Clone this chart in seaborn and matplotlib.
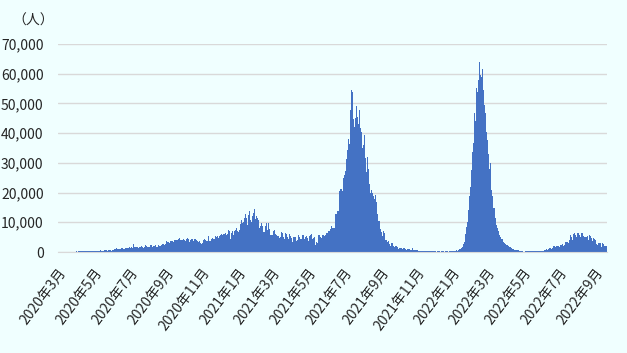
import pandas as pd
import matplotlib.pyplot as plt
import seaborn as sns

sns.set_style("white")
plt.rcParams['font.family'] = ['Noto Sans CJK JP', 'DejaVu Sans']

# daily new cases (one line per month)
cases_2020 = [
    2, 0, 0, 2, 0, 0, 2, 13, 8, 7, 0, 35, 27, 21, 17, 38, 55, 82, 60, 81, 64, 65, 106, 105, 103, 153, 109, 130, 129, 114,
    149, 113, 196, 106, 181, 218, 247, 218, 337, 219, 330, 399, 316, 282, 297, 380, 407, 325, 327, 185, 375, 283, 357, 436, 396, 275, 214, 415, 260, 347,
    433, 292, 349, 395, 484, 367, 338, 336, 386, 387, 233, 484, 689, 568, 490, 529, 489, 496, 486, 693, 973, 634, 949, 526, 479, 415, 686, 687, 678, 557, 700,
    467, 609, 684, 585, 703, 993, 672, 847, 1043, 1241, 979, 1111, 1014, 857, 1017, 1106, 1031, 1331, 1041, 1226, 862, 954, 1051, 1113, 1178, 1082, 1385, 1198, 1082, 1293,
    1385, 1624, 1301, 1447, 1607, 1209, 1268, 1853, 2657, 1611, 1671, 1681, 1282, 1591, 1522, 1574, 1462, 1752, 1639, 1693, 1655, 1882, 1906, 1761, 1868, 1492, 1525, 1748, 2381, 1904, 2040,
    1560, 1519, 1679, 1815, 1815, 1882, 2473, 2277, 1893, 1687, 1693, 1942, 2098, 2307, 2345, 2081, 1821, 1673, 1902, 2266, 2197, 2037, 2286, 1877, 2447, 2306, 2719, 3003, 2858, 2495, 2743,
    2775, 3075, 3622, 3269, 3444, 3250, 2880, 3046, 3307, 3861, 3737, 3806, 3636, 3141, 3507, 3963, 3635, 3891, 4168, 3989, 3989, 4071, 4465, 4634, 4823, 4494, 3874, 4176, 3906, 4002,
    4174, 4317, 4007, 3992, 3622, 4056, 4538, 4850, 4094, 4294, 4497, 3267, 3906, 4127, 4411, 4301, 4301, 3373, 3602, 4369, 4267, 4432, 4369, 4070, 3732, 3222, 3520, 4029, 3565, 2696, 2897,
    2696, 2618, 3143, 3356, 4065, 4262, 4262, 3880, 3880, 3779, 3770, 4173, 5444, 5272, 3807, 3535, 3807, 4265, 4798, 4792, 4998, 4360, 4442, 4192, 5534, 5534, 4917, 5418, 6267, 4617,
    5092, 5533, 8369, 5803, 6027, 6089, 5754, 5292, 6058, 6033, 6310, 6388, 5489, 5681, 6120, 7354, 7354, 6725, 6982, 6848, 4442, 6347, 7514, 7199, 6130, 5854, 7088, 7203, 7468, 8002, 8072,
]
cases_2021 = [
    7036, 6877, 6783, 6753, 7445, 8854, 9321, 10617, 10046, 9640, 8692, 10047, 11278, 11557, 12818, 14224, 11287, 9086, 10365, 12568, 11703, 13632, 12191, 10934, 9994, 13094, 11948, 13695, 12983, 14518, 12001,
    10994, 9883, 11984, 11434, 11749, 10768, 12156, 8242, 8700, 8776, 9868, 8435, 8844, 8557, 6765, 6686, 8869, 8779, 8800, 9599, 7528, 7300, 9775, 8493, 7823, 6760, 5835, 5794,
    6680, 5712, 6808, 6971, 7264, 6736, 6127, 5589, 5633, 5531, 4607, 5414, 5500, 4714, 4424, 5210, 6699, 6570, 6279, 5688, 5008, 4399, 5043, 6279, 5776, 5937, 4939, 4355, 4315, 5089, 5937,
    6142, 5520, 4871, 5050, 3495, 4549, 4956, 5007, 4972, 5041, 4160, 3539, 4123, 5702, 5656, 5656, 4952, 4533, 4394, 4263, 6177, 5720, 5436, 5748, 4402, 4652, 5205, 5241, 5444, 4801,
    3758, 3587, 4429, 5285, 5285, 5647, 6130, 4891, 4321, 3922, 4608, 5016, 2633, 2385, 2404, 3448, 3080, 4871, 5746, 5797, 5744, 5296, 5040, 4563, 4952, 5797, 6278, 5862, 5305, 5060, 5824,
    4824, 6486, 6486, 6486, 7129, 6901, 6993, 6294, 7725, 8892, 8465, 8083, 9868, 8189, 8161, 9944, 12624, 12990, 12906, 13737, 14536, 13668, 15308, 20574, 18872, 21095, 21342, 20694, 20467, 21807,
    24836, 25830, 27913, 27233, 29745, 31189, 34379, 38391, 38124, 35094, 36197, 40427, 47899, 54517, 56757, 54000, 51952, 44721, 42000, 40000, 45000, 49509, 49071, 45416, 44000, 43000, 45203, 47791, 43479, 41649, 40427,
    37284, 35000, 33000, 35867, 39532, 35764, 31753, 28000, 27000, 32081, 30625, 28000, 28598, 22929, 20813, 20000, 20741, 22053, 20004, 19000, 19000, 18000, 16000, 19106, 18671, 16899, 12908, 11000, 10500, 10000, 10534,
    8955, 7797, 6727, 6077, 5500, 5376, 7201, 6553, 5376, 4167, 3779, 3948, 3300, 4128, 3637, 3385, 2720, 2234, 1932, 2912, 3263, 2881, 2557, 2057, 1760, 1390, 1954, 2057, 1942, 1624,
    1414, 1142, 922, 1404, 1393, 1485, 1384, 1111, 894, 620, 1261, 1233, 1053, 915, 1008, 747, 1008, 914, 1043, 760, 883, 623, 652, 612, 637, 1303, 849, 733, 631, 590, 612,
    526, 592, 589, 604, 428, 400, 455, 480, 400, 435, 386, 409, 339, 297, 493, 700, 484, 400, 345, 388, 254, 176, 320, 395, 363, 324, 246, 247, 322, 320,
    278, 315, 216, 200, 152, 143, 194, 195, 219, 190, 183, 107, 148, 190, 175, 208, 203, 182, 141, 216, 232, 220, 227, 206, 172, 92, 139, 182, 265, 249, 274,
]
cases_2022 = [
    265, 174, 299, 299, 404, 533, 479, 528, 529, 414, 802, 646, 772, 1054, 1053, 1200, 1289, 1299, 1745, 2116, 2604, 3205, 4500, 6000, 7010, 8500, 10200, 12500, 14000, 16500, 19000,
    22000, 25000, 27500, 32000, 33800, 36000, 36600, 46700, 46800, 44000, 55000, 55200, 54000, 56800, 58000, 64718, 63956, 59400, 59600, 59000, 57500, 61500, 61900, 54500, 49500, 49200, 46700, 44400,
    40500, 37700, 37000, 33000, 30000, 28000, 30000, 24000, 21000, 20500, 19000, 15000, 14700, 14800, 13000, 11300, 11000, 9000, 8000, 8000, 7200, 6500, 5700, 5200, 5000, 4300, 4000, 4300, 3800, 3300, 3100,
    3000, 2800, 2300, 2200, 2300, 2100, 1900, 1700, 1600, 1600, 1300, 1200, 1100, 1000, 1000, 900, 800, 650, 600, 700, 650, 600, 550, 600, 600, 500, 500, 450, 400, 350,
    300, 200, 150, 100, 150, 230, 320, 400, 350, 250, 280, 300, 260, 220, 250, 230, 200, 250, 270, 280, 260, 200, 180, 250, 300, 320, 280, 250, 200, 260, 320,
    350, 400, 380, 360, 300, 450, 600, 700, 800, 850, 900, 700, 600, 900, 1000, 1200, 1250, 1100, 1000, 1200, 1300, 1600, 1900, 2000, 1800, 1700, 1700, 2000, 2100, 2000,
    2100, 2000, 1800, 2200, 2600, 2500, 2600, 2700, 2500, 2000, 2400, 3400, 3500, 3600, 3400, 3300, 3000, 3100, 4300, 4200, 5700, 5000, 5200, 4200, 4000, 5700, 6200, 6300, 6000, 5800, 5200,
    5000, 6400, 6300, 6500, 6200, 5800, 5200, 6200, 6300, 6400, 6300, 6100, 5500, 5200, 5100, 5200, 5000, 5100, 5300, 4500, 4200, 5000, 5700, 5500, 5000, 4600, 4500, 3700, 3500, 4600, 4500,
    4300, 4000, 3100, 2800, 2300, 3100, 3100, 3000, 3000, 2900, 2000, 1800, 3100, 3000, 2500, 2600, 2000, 1500, 2000, 2300, 2100,
]

start_dates = ["2020-03-02", "2021-01-01", "2022-01-01"]
tick_months = pd.date_range("2020-03-01", "2022-09-01", freq="2MS")
tick_labels = [f"{d.year}年{d.month}月" for d in tick_months]

BG = '#F0FFFF'
BAR = '#4472C4'
GRID = '#D9D9D9'


def build_frame():
    parts = []
    for start, vals in zip(start_dates, [cases_2020, cases_2021, cases_2022]):
        dates = pd.date_range(start, periods=len(vals), freq="D")
        parts.append(pd.DataFrame({'date': dates, 'cases': vals}))
    df = pd.concat(parts, ignore_index=True)
    origin = pd.Timestamp("2020-03-01")
    df['day'] = (df['date'] - origin).dt.days
    return df, origin


def create_chart(image_path):
    df, origin = build_frame()

    fig = plt.figure(figsize=(6.27, 3.53), dpi=100, facecolor=BG)
    ax = fig.add_axes([57.5 / 627, 1 - 252 / 353, (607 - 57.5) / 627, (252 - 44) / 353])
    ax.set_facecolor(BG)

    sns.barplot(data=df, x='day', y='cases', native_scale=True, width=1.0,
                color=BAR, saturation=1, linewidth=0, errorbar=None,
                antialiased=False, ax=ax)

    last = df['day'].max()
    ax.set_xlim(0.5, last + 0.5)
    ax.set_ylim(0, 70000)
    ax.set_yticks(range(0, 70001, 10000))
    ax.set_yticklabels([f"{v:,}" for v in range(0, 70001, 10000)], fontsize=10)

    tick_pos = [(d - origin).days + 0.5 for d in tick_months]
    ax.set_xticks(tick_pos)
    ax.set_xticklabels(tick_labels, rotation=53, ha='right', va='top',
                       rotation_mode='anchor', fontsize=10)

    ax.set_xlabel('')
    ax.set_ylabel('')
    ax.yaxis.grid(True, color=GRID, linewidth=1)
    ax.xaxis.grid(False)
    ax.set_axisbelow(True)
    for s in ['left', 'top', 'right']:
        ax.spines[s].set_visible(False)
    ax.spines['bottom'].set_color(GRID)
    ax.tick_params(axis='y', length=0, pad=10)
    ax.tick_params(axis='x', length=4, color=GRID, direction='out', pad=6)

    fig.text(33 / 627, 1 - 21 / 353, '（人）', ha='center', va='center', fontsize=10)

    plt.savefig(image_path, dpi=100, facecolor=BG)
    plt.clf()


def main():
    create_chart('out.png')


if __name__ == '__main__':
    main()
